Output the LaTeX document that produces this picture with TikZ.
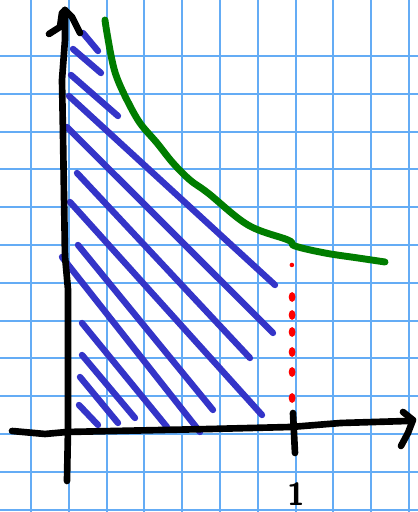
\documentclass[tikz,border=0pt]{standalone}
\usepackage{tikz}

\definecolor{gridblue}{RGB}{100,172,245}
\definecolor{hatchblue}{RGB}{52,52,200}
\definecolor{curvegreen}{RGB}{0,125,0}

\begin{document}
\begin{tikzpicture}[line cap=round, line join=round,
  gridline/.style={draw=gridblue, line width=1.6pt},
  axis/.style={draw=black, line width=5pt},
  hatch/.style={draw=hatchblue, line width=4.8pt},
  curve/.style={draw=curvegreen, line width=5.2pt},
  reddot/.style={fill=red}]

\useasboundingbox[fill=white] (-1.772,-2.143) rectangle (9.286,11.402);

% ---- graph paper ----------------------------------------------------------------
\foreach \i in {0,...,10}
  \draw[gridline] ({-0.952+\i},-2.143) -- ({-0.952+\i},11.402);
\foreach \j in {-2,...,10}
  \draw[gridline] (-1.772,{-0.08+\j}) -- (9.286,{-0.08+\j});

% ---- hatching under the curve ---------------------------------------------------
\foreach \xa/\ya/\xb/\yb in {0.423/10.529/0.820/10.053, 0.159/10.106/0.899/9.471,
                             0.106/9.418/1.349/8.333,   0.053/8.862/5.503/3.862,
                             0/8.042/5.450/2.593,       0.265/6.825/4.841/1.931,
                             0.079/6.058/5.159/0.423,   0.291/4.921/3.862/0.556,
                             -0.132/4.603/3.519/-0.026, 0.397/2.857/2.646/0.106,
                             0.397/2.011/1.799/0.344,   0.344/1.429/1.349/0.212,
                             0.317/0.688/0.820/0.159}
  \draw[hatch] (\xa,\ya) -- (\xb,\yb);

% ---- the curve ------------------------------------------------------------------
\draw[curve] plot[smooth, tension=0.6] coordinates {
  (1.005,10.873) (1.058,10.529) (1.190,9.815) (1.323,9.339) (1.587,8.757)
  (1.931,8.148) (2.381,7.619) (2.804,7.090) (3.254,6.640) (3.730,6.296)
  (4.788,5.450) (5.847,5.053) (6.032,4.894) (6.825,4.709) (7.698,4.577)
  (8.413,4.471)};

% ---- dotted line at x = 1 -------------------------------------------------------
\fill[reddot] (5.950,4.392) circle (0.06);
\foreach \y in {3.545,3.069,2.619,2.090,1.561,0.873}
  \fill[reddot] (5.955,\y) ellipse (0.09 and 0.13);

% ---- axes -----------------------------------------------------------------------
\coordinate (ytip) at (-0.053,11.138);
\coordinate (xtip) at (9.153,0.291);
\draw[axis] (0,-1.323) -- (0.026,0) -- (0.026,3.757) -- (-0.053,4.630)
  -- (-0.106,7.884) -- (-0.132,9.286) -- (-0.053,10.344) -- (ytip);
\draw[axis] (-0.476,10.503) -- (-0.185,10.688) -- (-0.132,11.058) -- (ytip)
  -- (0.132,10.952) -- (0.344,10.529);
\draw[axis] (-1.455,0) -- (-0.582,-0.079) -- (0,-0.026) -- (3.783,0.053)
  -- (5.926,0.106) -- (7.249,0.212) -- (9.021,0.265) -- (xtip);
\draw[axis] (8.889,0.503) -- (xtip) -- (9.021,-0.053) -- (8.836,-0.397);

% ---- tick and label -------------------------------------------------------------
\coordinate (tickup) at (5.979,0.476);
\coordinate (tickdn) at (6.032,-0.582);
\draw[axis] (tickup) -- (tickdn);
\node[font=\fontsize{24}{24}\selectfont\sffamily\bfseries, inner sep=0pt] (one)
  at (6.058,-1.667) {1};

\end{tikzpicture}
\end{document}
